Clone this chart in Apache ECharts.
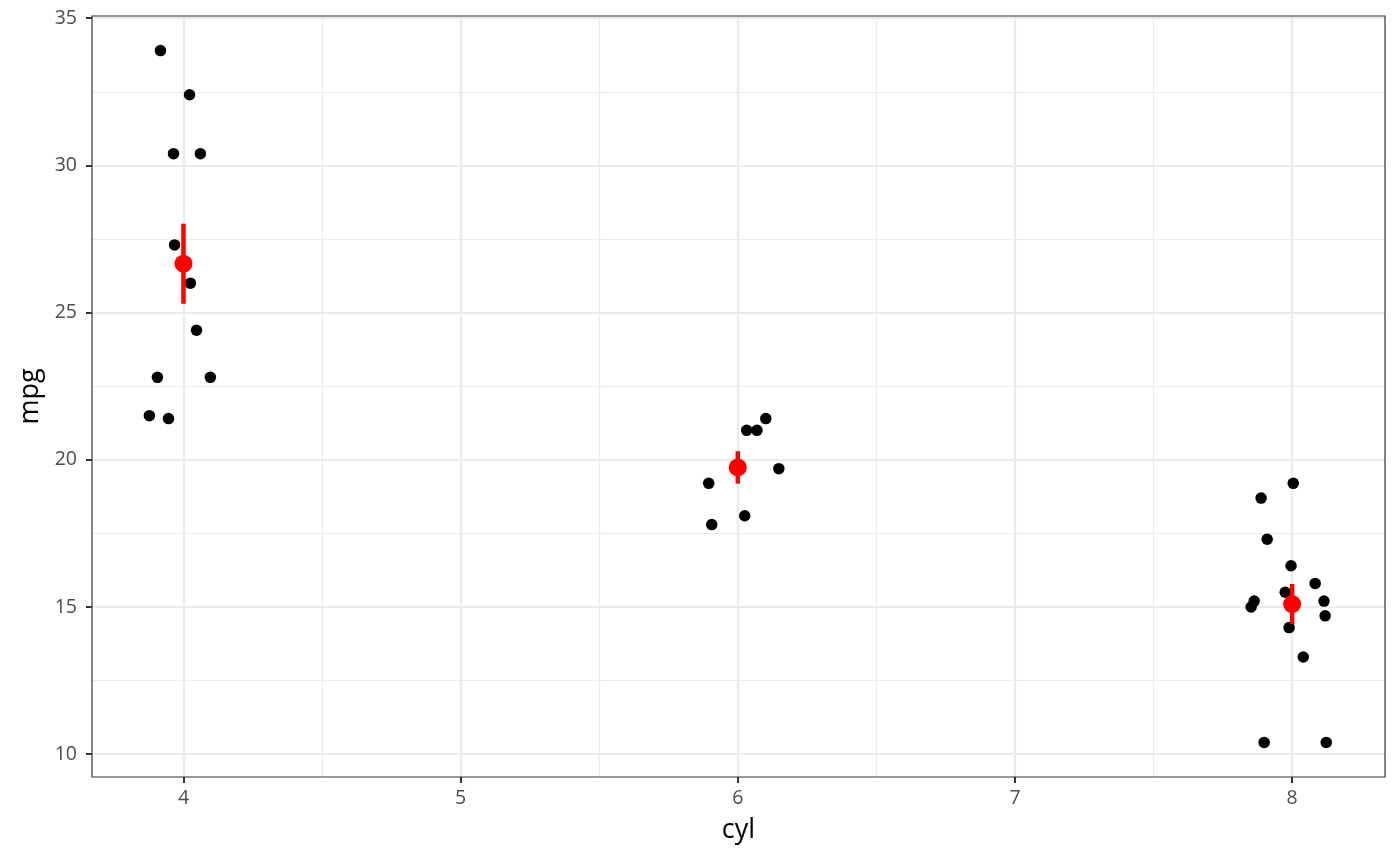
<!DOCTYPE html>
<html>
<head>
<meta charset="utf-8">
<script src="https://cdn.jsdelivr.net/npm/echarts@6/dist/echarts.min.js"></script>
<style>html,body{margin:0;padding:0;background:#fff}#c{width:1400px;height:866px}</style>
</head>
<body>
<div id="c"></div>
<script>
// jittered cyl positions and mpg values
const cyl4X = [3.917, 4.022, 3.964, 4.061, 3.968, 4.025, 4.047, 3.906, 4.097, 3.877, 3.946];
const cyl4Y = [33.9, 32.4, 30.4, 30.4, 27.3, 26.0, 24.4, 22.8, 22.8, 21.5, 21.4];
const cyl6X = [6.101, 6.032, 6.069, 6.148, 5.895, 6.025, 5.906];
const cyl6Y = [21.4, 21.0, 21.0, 19.7, 19.2, 18.1, 17.8];
const cyl8X = [8.004, 7.888, 7.910, 7.996, 8.083, 7.975, 7.863, 8.115, 7.852, 8.119, 7.989, 8.040, 7.899, 8.123];
const cyl8Y = [19.2, 18.7, 17.3, 16.4, 15.8, 15.5, 15.2, 15.2, 15.0, 14.7, 14.3, 13.3, 10.4, 10.4];
// mean +/- standard error per cylinder group
const groups = [4, 6, 8];
const means = [26.66, 19.74, 15.10];
const lows = [25.30, 19.19, 14.42];
const highs = [28.02, 20.29, 15.78];
// tick labels
const xTicks = [4, 5, 6, 7, 8];
const yTicks = [10, 15, 20, 25, 30, 35];

const pts = [];
[[cyl4X, cyl4Y], [cyl6X, cyl6Y], [cyl8X, cyl8Y]].forEach(([xs, ys]) => {
  xs.forEach((x, i) => pts.push([x, ys[i]]));
});
const meanPts = groups.map((g, i) => [g, means[i]]);
const errData = groups.map((g, i) => [g, lows[i], highs[i]]);

const chart = echarts.init(document.getElementById('c'), null, {renderer: 'canvas'});
const font = 'Open Sans, Noto Sans, sans-serif';
function axisCommon(ticks) {
  return {
    axisLine: {show: false},
    axisTick: {show: true, length: 6, customValues: ticks, lineStyle: {color: '#333333', width: 2}},
    axisLabel: {fontSize: 19.5, color: '#4d4d4d', fontFamily: font, customValues: ticks},
    splitLine: {show: true, lineStyle: {color: '#ebebeb', width: 2.2}},
    minorTick: {show: false, splitNumber: 2},
    minorSplitLine: {show: true, lineStyle: {color: '#ebebeb', width: 1.1}}
  };
}
const xa = axisCommon(xTicks);
xa.axisLabel.margin = 11;
const ya = axisCommon(yTicks);
ya.axisLabel.margin = 15;
chart.setOption({
  animation: false,
  backgroundColor: '#fff',
  grid: {left: 92, right: 15, top: 16, bottom: 89, show: true, borderColor: '#333333', borderWidth: 1.2,
         backgroundColor: 'transparent', z: 3, containLabel: false, outerBoundsMode: 'none'},
  xAxis: Object.assign({
    type: 'value', min: 3.67, max: 8.335,
    name: 'cyl', nameLocation: 'middle', nameGap: 40,
    nameTextStyle: {fontSize: 27, color: '#000', fontFamily: font}
  }, xa),
  yAxis: Object.assign({
    type: 'value', min: 9.225, max: 35.075,
    name: 'mpg', nameLocation: 'middle', nameGap: 47, nameRotate: 90,
    nameTextStyle: {fontSize: 27, color: '#000', fontFamily: font}
  }, ya),
  series: [
    {type: 'scatter', data: pts, symbolSize: 11.5, itemStyle: {color: '#000', opacity: 1}, z: 2, silent: true},
    {type: 'custom', data: errData, z: 4, silent: true,
      renderItem: function (params, api) {
        const a = api.coord([api.value(0), api.value(1)]);
        const b = api.coord([api.value(0), api.value(2)]);
        return {type: 'line', shape: {x1: a[0], y1: a[1], x2: b[0], y2: b[1]}, style: {stroke: '#ff0000', lineWidth: 4.5}};
      },
      encode: {x: 0, y: [1, 2]}
    },
    {type: 'scatter', data: meanPts, symbolSize: 18, itemStyle: {color: '#ff0000', opacity: 1}, z: 5, silent: true}
  ]
});
</script>
</body>
</html>
